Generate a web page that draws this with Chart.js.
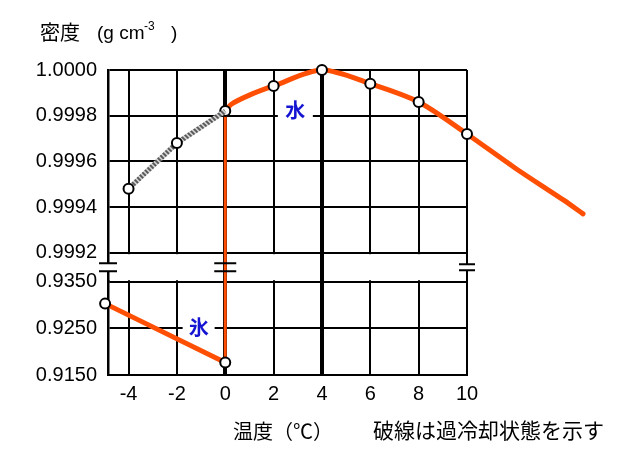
<!DOCTYPE html>
<html><head><meta charset="utf-8">
<script src="https://cdn.jsdelivr.net/npm/chart.js@4.4.0/dist/chart.umd.min.js"></script>
<style>html,body{margin:0;padding:0;background:#fff;}</style>
</head><body>
<canvas id="c" width="640" height="461"></canvas>
<script>
// ---- data ----
const xTicks = [-4, -2, 0, 2, 4, 6, 8, 10];
const yTopTicks = [0.9992, 0.9994, 0.9996, 0.9998, 1.0000];
const yBotTicks = [0.9150, 0.9250, 0.9350];
const waterT = [0, 0.25, 1, 2, 4, 6, 8, 10, 12, 14, 14.8];
const waterD = [0.99982, 0.99985, 0.99989, 0.99993, 1.00000, 0.99994, 0.99986, 0.99972, 0.99957, 0.99943, 0.99937];
const waterMarked = [0, 2, 4, 6, 8, 10];
const superT = [-4, -2, 0];
const superD = [0.99948, 0.99968, 0.99982];
const iceT = [-4.97, 0];
const iceD = [0.9303, 0.9177];
const gapHiddenTicks = [-4, -2, 2, 6, 8];

const ORANGE = '#ff4f05';
Chart.defaults.font.family = "'Liberation Sans', Arial, sans-serif";
Chart.defaults.color = '#000';

function hatch() {
  const c = document.createElement('canvas');
  c.width = 5; c.height = 5;
  const g = c.getContext('2d');
  g.fillStyle = '#cfcfcf'; g.fillRect(0, 0, 5, 5);
  g.strokeStyle = '#555'; g.lineWidth = 1.8;
  g.beginPath();
  g.moveTo(-1, -1); g.lineTo(6, 6);
  g.moveTo(-1, 4); g.lineTo(1, 6);
  g.moveTo(4, -1); g.lineTo(6, 1);
  g.stroke();
  return g.createPattern(c, 'repeat');
}

const breakPlugin = {
  id: 'breaks',
  beforeDatasetsDraw(chart) {
    const {ctx, chartArea, scales} = chart;
    const x = scales.x, yTop = scales.yTop, yBot = scales.yBot;
    const gTop = yTop.getPixelForValue(yTopTicks[0]);
    const gBot = yBot.getPixelForValue(yBotTicks[yBotTicks.length - 1]);
    const mid = (gTop + gBot) / 2;
    ctx.save();
    ctx.fillStyle = '#fff';
    gapHiddenTicks.forEach(v => {
      const px = x.getPixelForValue(v);
      ctx.fillRect(px - 2, gTop + 1.5, 4, gBot - gTop - 3);
    });
    const L = chartArea.left, R = x.getPixelForValue(10), Z = x.getPixelForValue(0);
    ctx.fillRect(L - 3, mid - 4, 6, 8);
    ctx.fillRect(R - 3, mid - 3, 6, 6);
    // phase change connector at 0 °C
    ctx.strokeStyle = ORANGE; ctx.lineWidth = 3;
    ctx.beginPath();
    ctx.moveTo(Z, yTop.getPixelForValue(waterD[0]));
    ctx.lineTo(Z, yBot.getPixelForValue(iceD[iceD.length - 1]));
    ctx.stroke();
    // break marks
    ctx.strokeStyle = '#000'; ctx.lineWidth = 2;
    ctx.beginPath();
    [[L, 9, 4], [Z, 11, 4], [R, 8, 3]].forEach(([px, w, h]) => {
      ctx.moveTo(px - w, mid - h); ctx.lineTo(px + w, mid - h);
      ctx.moveTo(px - w, mid + h); ctx.lineTo(px + w, mid + h);
    });
    ctx.stroke();
    ctx.restore();
  },
  afterDatasetsDraw(chart) {
    const {ctx, scales} = chart;
    const labels = [
      {text: '水', x: 2.9, y: 0.9998, axis: 'yTop', bw: 35, dy: -5},
      {text: '氷', x: -1.1, y: 0.9250, axis: 'yBot', bw: 32, dy: -1}
    ];
    ctx.save();
    labels.forEach(l => {
      const px = scales.x.getPixelForValue(l.x);
      const py = scales[l.axis].getPixelForValue(l.y);
      ctx.fillStyle = '#fff';
      ctx.fillRect(px - l.bw / 2, py - 8, l.bw, 14);
      ctx.fillStyle = '#1414d2';
      ctx.font = "bold 20px 'Noto Sans CJK JP'";
      ctx.textAlign = 'center'; ctx.textBaseline = 'middle';
      ctx.fillText(l.text, px, py + l.dy);
    });
    ctx.restore();
  },
  afterDraw(chart) {
    const ctx = chart.ctx;
    ctx.save();
    ctx.fillStyle = '#000';
    ctx.textAlign = 'left';
    ctx.textBaseline = 'middle';
    ctx.font = "20px 'Noto Sans CJK JP'";
    ctx.fillText('密度', 40, 32);
    ctx.textBaseline = 'alphabetic';
    ctx.font = "19px 'Liberation Sans'";
    ctx.fillText('(g cm', 97, 39);
    ctx.font = "12px 'Liberation Sans'";
    ctx.fillText('-3', 144, 30);
    ctx.font = "19px 'Liberation Sans'";
    ctx.fillText(')', 171, 39);
    ctx.textBaseline = 'middle';
    ctx.font = "20px 'Noto Sans CJK JP'";
    ctx.fillText('温度（℃）', 233, 431);
    ctx.font = "21px 'Noto Sans CJK JP'";
    ctx.fillText('破線は過冷却状態を示す', 373, 430);
    ctx.restore();
  }
};

const pts = (xs, ys) => xs.map((t, i) => ({x: t, y: ys[i]}));
const yCommon = {
  type: 'linear', position: 'left', stack: 'y',
  afterFit: s => { s.width = 108; },
  grid: {color: '#000', lineWidth: 2, drawTicks: false},
  border: {color: '#000', width: 2.5},
  ticks: {padding: 11, autoSkip: false, font: {size: 20}, color: '#000', callback: v => Number(v).toFixed(4)}
};

// water curve is handed over from the warm end so the part past 10 °C is drawn too
const waterPts = pts(waterT, waterD).reverse();

new Chart(document.getElementById('c'), {
  type: 'line',
  data: {
    datasets: [
      {
        label: '過冷却水', data: pts(superT, superD), yAxisID: 'yTop',
        borderColor: hatch(), borderWidth: 5, tension: 0, clip: false,
        pointRadius: [5, 5, 0], pointBackgroundColor: '#fff', pointBorderColor: '#000', pointBorderWidth: 2
      },
      {
        label: '氷', data: pts(iceT, iceD), yAxisID: 'yBot',
        borderColor: ORANGE, borderWidth: 5, tension: 0, clip: false, borderCapStyle: 'round',
        pointRadius: 5, pointBackgroundColor: '#fff', pointBorderColor: '#000', pointBorderWidth: 2
      },
      {
        label: '水', data: waterPts, yAxisID: 'yTop',
        borderColor: ORANGE, borderWidth: 5, tension: 0.3, clip: false, borderCapStyle: 'round',
        pointRadius: waterPts.map(p => waterMarked.includes(p.x) ? 5 : 0),
        pointBackgroundColor: '#fff', pointBorderColor: '#000', pointBorderWidth: 2
      }
    ]
  },
  options: {
    responsive: false, animation: false,
    layout: {padding: {top: 70, left: 0, right: 173, bottom: 48}},
    plugins: {legend: {display: false}, tooltip: {enabled: false}},
    scales: {
      x: {
        type: 'linear', min: -4.85, max: 10,
        afterBuildTicks: s => { s.ticks = xTicks.map(v => ({value: v})); },
        grid: {color: '#000', drawTicks: false,
          lineWidth: c => (c.tick && (c.tick.value === 0 || c.tick.value === 4)) ? 4 : 2},
        border: {color: '#000', width: 2},
        ticks: {padding: 7, autoSkip: false, maxRotation: 0, font: {size: 20}, color: '#000', callback: v => String(v)}
      },
      yBot: Object.assign({}, yCommon, {
        stackWeight: 93, min: 0.915, max: 0.935,
        afterBuildTicks: s => { s.ticks = yBotTicks.map(v => ({value: v})); }
      }),
      yTop: Object.assign({}, yCommon, {
        stackWeight: 211, min: 0.999073, max: 1.0,
        afterBuildTicks: s => { s.ticks = yTopTicks.map(v => ({value: v})); }
      })
    }
  },
  plugins: [breakPlugin]
});
</script>
</body></html>
